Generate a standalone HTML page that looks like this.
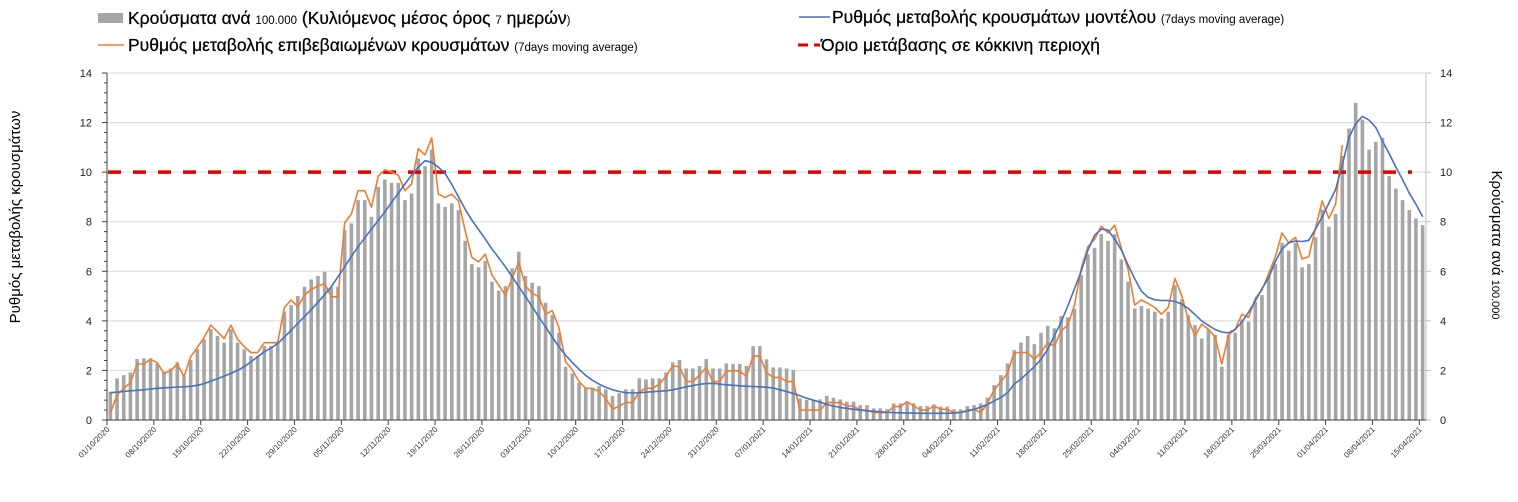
<!DOCTYPE html>
<html><head><meta charset="utf-8">
<style>
html,body{margin:0;padding:0;background:#fff;}
svg{display:block;font-family:"Liberation Sans",Arial,sans-serif;}
</style></head>
<body>
<svg id="chart" width="1518" height="502" viewBox="0 0 1518 502" xmlns="http://www.w3.org/2000/svg">
<g id="legend">
  <g>
    <rect x="98" y="13" width="25" height="10" fill="#a6a6a6"/>
    <text x="128" y="24" font-size="17.5" fill="#000" stroke="#000" stroke-width="0.25">Κρούσματα ανά <tspan font-size="11.5" stroke-width="0">100.000</tspan> (Κυλιόμενος μέσος όρος <tspan font-size="11.5" stroke-width="0">7</tspan> ημερών<tspan font-size="11.5" stroke-width="0">)</tspan></text>
  </g>
  <g>
    <line x1="98" y1="45" x2="124" y2="45" stroke="#ed7d31" stroke-width="1.5"/>
    <text x="128" y="51" font-size="17.5" fill="#000" stroke="#000" stroke-width="0.25">Ρυθμός μεταβολής επιβεβαιωμένων κρουσμάτων <tspan font-size="11.5" stroke-width="0">(7days moving average)</tspan></text>
  </g>
  <g>
    <line x1="799" y1="17" x2="830" y2="17" stroke="#4472c4" stroke-width="1.5"/>
    <text x="832" y="23" font-size="17.5" fill="#000" stroke="#000" stroke-width="0.25">Ρυθμός μεταβολής κρουσμάτων μοντέλου <tspan font-size="11.5" stroke-width="0">(7days moving average)</tspan></text>
  </g>
  <g>
    <line x1="798" y1="45" x2="808" y2="45" stroke="#e00000" stroke-width="3"/>
    <line x1="814" y1="45" x2="820" y2="45" stroke="#e00000" stroke-width="3"/>
    <text x="821" y="51" font-size="17.5" fill="#000" stroke="#000" stroke-width="0.25">Όριο μετάβασης σε κόκκινη περιοχή</text>
  </g>
</g>
<text transform="translate(20,217) rotate(-90)" text-anchor="middle" font-size="15" fill="#000">Ρυθμός μεταβολής κρουσμάτων</text>
<text transform="translate(1492,245) rotate(90)" text-anchor="middle" font-size="15" fill="#000">Κρούσματα ανά <tspan font-size="11">100.000</tspan></text>
<g id="grid"></g>
<g id="bars"></g>
<g id="threshold"></g>
<g id="lines"></g>
<g id="axes"></g>
</svg>
<script>
const cases = [1.14,1.68,1.81,1.92,2.46,2.49,2.49,2.28,1.95,2.08,2.33,1.75,2.42,2.86,3.25,3.66,3.39,3.12,3.66,3.12,2.85,2.58,2.58,2.98,2.98,3.12,4.37,4.64,5.0,5.38,5.67,5.81,5.98,5.38,5.38,7.66,7.93,8.87,8.87,8.2,9.41,9.7,9.57,9.57,8.87,9.14,10.55,10.24,10.91,8.74,8.6,8.74,8.47,7.23,6.29,6.16,6.42,5.58,5.22,5.4,6.12,6.79,5.81,5.54,5.4,4.73,4.23,3.52,2.15,1.88,1.5,1.28,1.28,1.37,1.24,0.97,1.08,1.24,1.24,1.68,1.64,1.68,1.68,1.92,2.33,2.42,2.08,2.08,2.18,2.46,2.08,2.08,2.28,2.26,2.26,2.18,2.98,2.98,2.45,2.12,2.12,2.08,2.02,0.87,0.81,0.81,0.83,0.97,0.9,0.83,0.74,0.74,0.6,0.6,0.47,0.47,0.43,0.67,0.67,0.74,0.67,0.56,0.56,0.63,0.54,0.54,0.43,0.43,0.56,0.6,0.67,0.9,1.41,1.81,2.28,2.82,3.12,3.39,3.06,3.52,3.8,3.7,4.19,4.14,4.49,5.85,6.69,6.95,7.5,7.23,7.5,6.48,5.58,4.5,4.6,4.5,4.37,4.1,4.37,5.44,4.87,4.23,3.83,3.29,3.66,3.43,2.15,3.43,3.52,4.06,3.97,4.77,5.04,5.85,6.29,7.15,6.83,7.15,6.16,6.29,7.37,8.49,7.8,8.31,10.65,11.76,12.8,12.12,10.91,11.22,11.38,9.84,9.34,8.87,8.47,8.13,7.86];
const confirmedRate = [0.27,1.0,1.28,1.5,2.26,2.26,2.45,2.31,1.88,1.99,2.26,1.75,2.55,2.93,3.33,3.83,3.56,3.29,3.83,3.25,2.96,2.72,2.72,3.12,3.12,3.12,4.54,4.84,4.57,5.04,5.27,5.4,5.51,4.97,4.97,7.96,8.31,9.25,9.25,8.58,9.84,10.1,10.0,9.88,9.25,9.52,10.95,10.69,11.38,9.11,8.98,9.11,8.84,7.63,6.56,6.38,6.69,5.85,5.44,5.04,5.71,6.38,5.4,5.11,4.97,4.27,4.41,3.74,2.35,2.02,1.55,1.28,1.28,1.14,0.87,0.43,0.56,0.7,0.7,1.14,1.28,1.28,1.45,1.77,2.18,2.15,1.55,1.55,1.81,2.12,1.55,1.55,1.98,1.98,1.98,1.75,2.58,2.58,1.91,1.72,1.72,1.55,1.55,0.4,0.4,0.4,0.4,0.7,0.7,0.7,0.56,0.56,0.4,0.4,0.3,0.3,0.3,0.54,0.54,0.74,0.56,0.4,0.4,0.56,0.43,0.43,0.3,0.3,0.4,0.43,0.3,0.67,1.21,1.55,1.88,2.72,2.72,2.72,2.45,2.72,3.12,2.98,3.6,3.83,4.64,6.12,6.99,7.29,7.82,7.55,7.86,6.93,6.08,4.64,4.84,4.7,4.54,4.27,4.54,5.71,5.04,4.06,3.39,3.87,3.66,3.36,2.26,3.43,3.66,4.27,4.14,4.91,5.24,5.91,6.59,7.55,7.15,7.37,6.5,6.59,7.73,8.84,8.13,8.71,11.09];
const modelRate = [1.1,1.12,1.15,1.18,1.2,1.22,1.25,1.28,1.3,1.31,1.33,1.34,1.36,1.4,1.47,1.57,1.67,1.77,1.88,2.0,2.15,2.35,2.55,2.75,2.9,3.09,3.35,3.62,3.9,4.17,4.45,4.75,5.05,5.38,5.78,6.18,6.6,6.99,7.35,7.7,8.05,8.4,8.78,9.15,9.52,9.88,10.2,10.46,10.4,10.2,9.95,9.5,9.0,8.5,8.06,7.68,7.3,6.9,6.55,6.18,5.78,5.38,4.98,4.57,4.15,3.75,3.35,2.95,2.62,2.32,2.05,1.8,1.6,1.45,1.32,1.22,1.15,1.1,1.09,1.1,1.12,1.14,1.16,1.18,1.22,1.28,1.34,1.39,1.44,1.47,1.48,1.45,1.42,1.4,1.38,1.36,1.35,1.34,1.32,1.29,1.22,1.15,1.07,0.98,0.88,0.8,0.72,0.63,0.56,0.51,0.47,0.43,0.4,0.37,0.35,0.33,0.31,0.3,0.29,0.28,0.28,0.27,0.27,0.27,0.27,0.27,0.28,0.31,0.36,0.43,0.52,0.63,0.77,0.9,1.1,1.45,1.65,1.9,2.15,2.45,2.85,3.4,3.95,4.6,5.3,6.0,6.85,7.45,7.7,7.66,7.3,6.85,6.25,5.7,5.2,4.95,4.85,4.82,4.82,4.78,4.68,4.5,4.25,4.0,3.82,3.65,3.55,3.52,3.65,3.95,4.35,4.8,5.3,5.75,6.4,6.9,7.15,7.22,7.2,7.25,7.7,8.2,8.75,9.3,10.3,11.4,11.95,12.25,12.1,11.8,11.25,10.75,10.2,9.7,9.15,8.7,8.2];
const dateLabels = ["01/10/2020","08/10/2020","15/10/2020","22/10/2020","29/10/2020","05/11/2020","12/11/2020","19/11/2020","26/11/2020","03/12/2020","10/12/2020","17/12/2020","24/12/2020","31/12/2020","07/01/2021","14/01/2021","21/01/2021","28/01/2021","04/02/2021","11/02/2021","18/02/2021","25/02/2021","04/03/2021","11/03/2021","18/03/2021","25/03/2021","01/04/2021","08/04/2021","15/04/2021"];
const yTicks = [0,2,4,6,8,10,12,14];
const threshold = [10];

const NS="http://www.w3.org/2000/svg";
const X0=107, X1=1426, Y0=420, Y14=73;
const N=cases.length;
const step=(X1-X0)/N;
function yScale(v){return Y0-(v/14)*(Y0-Y14);}
function xCenter(i){return X0+(i+0.5)*step;}
function xEdge(i){return X0+i*step;}
function mk(tag,attrs,parent){const e=document.createElementNS(NS,tag);for(const k in attrs)e.setAttribute(k,attrs[k]);parent.appendChild(e);return e;}

const grid=document.getElementById('grid');
yTicks.forEach(t=>{
  if(t===0) return;
  const g=mk('line',{x1:X0,x2:X1,y1:yScale(t),y2:yScale(t),stroke:'#d9d9d9','stroke-width':1},grid);
  
  
});

const bars=document.getElementById('bars');
cases.forEach((v,i)=>{
  const r=mk('rect',{x:xCenter(i)-1.8,y:yScale(v),width:3.6,height:Y0-yScale(v),fill:'#a6a6a6'},bars);
  
  
});

const th=document.getElementById('threshold');
threshold.forEach(v=>{
  const l=mk('line',{x1:X0+1,x2:1412,y1:yScale(v),y2:yScale(v),stroke:'#e00000','stroke-width':3.5,'stroke-dasharray':'13 12'},th);
  
  
});

const lines=document.getElementById('lines');
function path(arr,color,name){
  const d=arr.map((v,i)=>(i?'L':'M')+xCenter(i).toFixed(1)+' '+yScale(v).toFixed(1)).join(' ');
  const p=mk('path',{d:d,fill:'none',stroke:color,'stroke-width':1.6,'stroke-linejoin':'round'},lines);
  
  
}
path(confirmedRate,'#ed7d31','confirmed-rate-line');
path(modelRate,'#4472c4','model-rate-line');

const axes=document.getElementById('axes');
const la=mk('line',{x1:X0,x2:X0,y1:Y14,y2:Y0,stroke:'#404040','stroke-width':1},axes);


const ra=mk('line',{x1:X1,x2:X1,y1:Y14,y2:Y0,stroke:'#bfbfbf','stroke-width':1},axes);


const xa=mk('line',{x1:X0,x2:X1,y1:Y0,y2:Y0,stroke:'#404040','stroke-width':1},axes);


for(let k=0;k<=35;k++){
  const v=k*0.4;
  const major=Math.abs(v/2-Math.round(v/2))<1e-6;
  const t=mk('line',{x1:X0-(major?5:3),x2:X0,y1:yScale(v),y2:yScale(v),stroke:'#404040','stroke-width':1},axes);
  
  
}
yTicks.forEach(t=>{
  const a=mk('text',{x:92,y:yScale(t)+4,'text-anchor':'end','font-size':11,fill:'#222'},axes);
  a.textContent=t;
  
  
  const tk=mk('line',{x1:X1,x2:X1+5,y1:yScale(t),y2:yScale(t),stroke:'#bfbfbf','stroke-width':1},axes);
  
  
  const b=mk('text',{x:1440,y:yScale(t)+4,'text-anchor':'start','font-size':11,fill:'#222'},axes);
  b.textContent=t;
  
  
});
dateLabels.forEach((lab,k)=>{
  const x=xEdge(k*7);
  const t=mk('line',{x1:x,x2:x,y1:Y0,y2:Y0+5,stroke:'#404040','stroke-width':1},axes);
  
  
  const tx=mk('text',{transform:`translate(${x+3},${Y0+10}) rotate(-45)`,'text-anchor':'end','font-size':8,fill:'#333'},axes);
  tx.textContent=lab;
  
  
});
</script>
</body></html>
